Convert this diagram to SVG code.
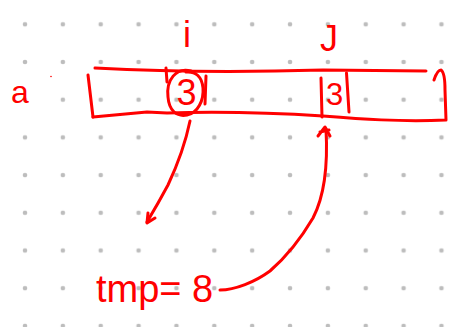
<svg xmlns="http://www.w3.org/2000/svg" width="454" height="327" viewBox="0 0 454 327">
  <style>
    .ink { fill: none; stroke: #ff0000; stroke-width: 3; stroke-linecap: round; stroke-linejoin: round; }
    .txt { fill: #ff0000; font-family: "Liberation Sans", Arial, sans-serif; }
  </style>
  <defs>
    <pattern id="dots" patternUnits="userSpaceOnUse" x="6.07" y="5.45" width="37.86" height="37.7">
      <circle cx="18.93" cy="18.85" r="2.3" fill="#bdbdbd"/>
    </pattern>
  </defs>
  <rect width="454" height="327" fill="#ffffff"/>
  <rect width="454" height="327" fill="url(#dots)"/>

  <g id="label-a">
    <text class="txt" x="11" y="103" font-size="32">a</text>
    <circle cx="51" cy="76.5" r="0.8" fill="#ff0000"/>
  </g>

  <g id="label-i">
    <text class="txt" x="187" y="47" font-size="36" text-anchor="middle">i</text>
  </g>

  <g id="label-j">
    <text class="txt" x="329" y="51" font-size="36" text-anchor="middle">J</text>
  </g>

  <g id="array">
    <path class="ink" d="M95,68 C150,71 220,73 323,70 L426,71"/>
    <path class="ink" d="M434,80 C436,74 438,70 441,70 C444,72 445,78 445,90 L446,120 C400,122 360,119 323,116 C260,112 200,112 167,113 L147,112 L93,117"/>
    <path class="ink" d="M88,75 L93,117"/>
  </g>

  <g id="cell-i">
    <path class="ink" d="M166,68 L167,82"/>
    <path class="ink" d="M191,71 C176,67 166,80 168,97 C169,111 177,117 187,115 C198,113 204,100 203,88 C202,77 196,71 186,72"/>
    <path class="ink" d="M206,76 L205,104"/>
    <text class="txt" x="186.5" y="105" font-size="36" text-anchor="middle">3</text>
  </g>

  <g id="cell-j">
    <path class="ink" d="M321,78 L322,117"/>
    <path class="ink" d="M346.5,73 L349,112"/>
    <text class="txt" x="334.5" y="105" font-size="31" text-anchor="middle">3</text>
  </g>

  <g id="tmp">
    <text class="txt" x="96" y="302" font-size="38">tmp= 8</text>
  </g>

  <g id="connectors">
    <path class="ink" d="M190,121 C185,145 176,168 168,185 C160,200 153,212 147,222"/>
    <path class="ink" d="M148,213 L147,223 L155,218"/>
    <path class="ink" d="M220,290 C235,290 255,282 270,271 C285,258 300,240 313,218 C325,195 328,165 326,129"/>
    <path class="ink" d="M318,136 L325,127 L330,136 M320,132 L329,130"/>
  </g>
</svg>
